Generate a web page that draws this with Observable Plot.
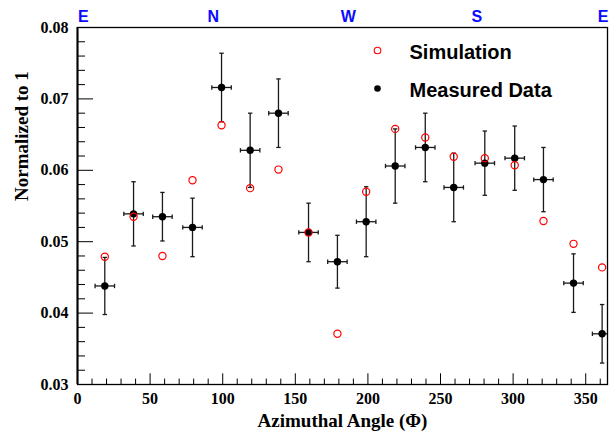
<!DOCTYPE html>
<html><head><meta charset="utf-8">
<script src="https://cdn.jsdelivr.net/npm/d3@7"></script>
<script src="https://cdn.jsdelivr.net/npm/@observablehq/plot@0.6"></script>
<style>
html,body{margin:0;padding:0;background:#fff;}
#chart{width:611px;height:442px;}
</style></head><body><div id="chart"></div>
<script>
// ---- data ----
const angles      = [18.8, 38.6, 58.5, 79.2, 99.2, 118.9, 138.4, 159.1, 179, 198.8, 218.8, 239.5, 259.1, 280.5, 301.1, 320.9, 341.6, 361.3];
const measured    = [0.0438, 0.0539, 0.0535, 0.0520, 0.0716, 0.0628, 0.0680, 0.0513, 0.0472, 0.0528, 0.0606, 0.0632, 0.0576, 0.0610, 0.0617, 0.0587, 0.0442, 0.0371];
const measuredErr = [0.0040, 0.0045, 0.0034, 0.0041, 0.0048, 0.0052, 0.0048, 0.0041, 0.0037, 0.0049, 0.0052, 0.0048, 0.0048, 0.0045, 0.0045, 0.0045, 0.0041, 0.0041];
const simulation  = [0.0479, 0.0535, 0.0480, 0.0586, 0.0663, 0.0575, 0.0601, 0.0513, 0.0371, 0.0570, 0.0658, 0.0646, 0.0619, 0.0617, 0.0607, 0.0529, 0.0497, 0.0464];
const angleErr = 6.7;

const xTicks = [0, 50, 100, 150, 200, 250, 300, 350];
const xMinor = [0,10,20,30,40,60,70,80,90,110,120,130,140,160,170,180,190,210,220,230,240,260,270,280,290,310,320,330,340,360];
const yTicks = [0.03, 0.04, 0.05, 0.06, 0.07, 0.08];
const yTickLabels = ["0.03", "0.04", "0.05", "0.06", "0.07", "0.08"];
const yMinor = [0.032,0.034,0.036,0.038,0.042,0.044,0.046,0.048,0.052,0.054,0.056,0.058,0.062,0.064,0.066,0.068,0.072,0.074,0.076,0.078];
const compassLabels = ["E", "N", "W", "S", "E"];
const compassAngles = [4, 93.5, 186.5, 275, 362];
const legendLabels = ["Simulation", "Measured Data"];
const xTitle = "Azimuthal Angle (\u03A6)";
const yTitle = "Normalized to 1";

// ---- build table ----
const rows = angles.map((a, i) => ({a, m: measured[i], e: measuredErr[i], s: simulation[i]}));

const W = 611, H = 442, ML = 77, MR = 4, MT = 27, MB = 58;
const FW = W - ML - MR, FH = H - MT - MB;

const capH = {draw(ctx, size) { const r = Math.sqrt(size / Math.PI); ctx.moveTo(-r, 0); ctx.lineTo(r, 0); }};
const capV = {draw(ctx, size) { const r = Math.sqrt(size / Math.PI); ctx.moveTo(0, -r); ctx.lineTo(0, r); }};

const serif = "'Liberation Serif', 'Times New Roman', serif";
const sans = "'Liberation Sans', Arial, Helvetica, sans-serif";
const barColor = "#1a1a1a";

const chart = Plot.plot({
  width: W, height: H,
  marginLeft: ML, marginRight: MR, marginTop: MT, marginBottom: MB,
  x: {domain: [0, 365], axis: null},
  y: {domain: [0.03, 0.08], axis: null},
  style: {background: "white", overflow: "visible"},
  marks: [
    // ticks (inward)
    Plot.tickX(xMinor, {x: d => d, insetTop: FH - 5.4, stroke: "black", strokeWidth: 1}),
    Plot.tickX(xTicks, {x: d => d, insetTop: FH - 10.7, stroke: "black", strokeWidth: 1}),
    Plot.tickY(yMinor, {y: d => d, insetRight: FW - 8, stroke: "black", strokeWidth: 1}),
    Plot.tickY(yTicks, {y: d => d, insetRight: FW - 16, stroke: "black", strokeWidth: 1}),
    // tick labels
    Plot.text(xTicks, {x: d => d, frameAnchor: "bottom", dy: 19, lineAnchor: "bottom", text: d => String(d),
      fontFamily: serif, fontWeight: "bold", fontSize: 16, fill: "black"}),
    Plot.text(yTicks, {y: d => d, frameAnchor: "left", dx: -9, textAnchor: "end", lineAnchor: "middle",
      text: (d, i) => yTickLabels[i], fontFamily: serif, fontWeight: "bold", fontSize: 16, fill: "black"}),
    // titles
    Plot.text([xTitle], {frameAnchor: "bottom", dy: 42, lineAnchor: "bottom", text: d => d,
      fontFamily: serif, fontWeight: "bold", fontSize: 19, fill: "black"}),
    Plot.text([yTitle], {frameAnchor: "left", dx: -50, dy: -5, rotate: -90, lineAnchor: "bottom", text: d => d,
      fontFamily: serif, fontWeight: "bold", fontSize: 19, fill: "black"}),
    // compass labels
    Plot.text(compassLabels, {x: (d, i) => compassAngles[i], frameAnchor: "top", dy: -5.3, lineAnchor: "bottom", text: d => d,
      fontFamily: sans, fontWeight: "bold", fontSize: 16, fill: "#0a0aff"}),
    // error bars
    Plot.link(rows, {x1: d => d.a - angleErr, x2: d => d.a + angleErr, y1: "m", y2: "m", stroke: barColor, strokeWidth: 1.3, clip: true}),
    Plot.link(rows, {x1: "a", x2: "a", y1: d => d.m - d.e, y2: d => d.m + d.e, stroke: barColor, strokeWidth: 1.3, clip: true}),
    Plot.dot(rows, {x: "a", y: d => d.m - d.e, symbol: capH, r: 2.2, stroke: barColor, strokeWidth: 1.3, fill: "none"}),
    Plot.dot(rows, {x: "a", y: d => d.m + d.e, symbol: capH, r: 2.2, stroke: barColor, strokeWidth: 1.3, fill: "none"}),
    Plot.dot(rows, {x: d => d.a - angleErr, y: "m", symbol: capV, r: 2.2, stroke: barColor, strokeWidth: 1.3, fill: "none", clip: true}),
    Plot.dot(rows, {x: d => d.a + angleErr, y: "m", symbol: capV, r: 2.2, stroke: barColor, strokeWidth: 1.3, fill: "none", clip: true}),
    // markers
    Plot.dot(rows, {x: "a", y: "m", r: 3.7, fill: "black", stroke: "none"}),
    Plot.dot(rows, {x: "a", y: "s", r: 3.6, fill: "none", stroke: "#ff0000", strokeWidth: 1.2}),
    // frame
    Plot.frame({stroke: "black", strokeWidth: 1.3}),
    Plot.ruleX([0], {stroke: "black", strokeWidth: 2}),
    // legend
    Plot.dot([legendLabels[0]], {frameAnchor: "top-left", dx: 300, dy: 23, r: 3.3, fill: "none", stroke: "#ff0000", strokeWidth: 1.1}),
    Plot.dot([legendLabels[1]], {frameAnchor: "top-left", dx: 300, dy: 61, r: 3.3, fill: "black", stroke: "none"}),
    Plot.text([legendLabels[0]], {frameAnchor: "top-left", dx: 332, dy: 31.3, lineAnchor: "bottom", textAnchor: "start", text: d => d,
      fontFamily: sans, fontWeight: "bold", fontSize: 20, fill: "black"}),
    Plot.text([legendLabels[1]], {frameAnchor: "top-left", dx: 332, dy: 69.7, lineAnchor: "bottom", textAnchor: "start", text: d => d,
      fontFamily: sans, fontWeight: "bold", fontSize: 20, fill: "black"})
  ]
});
document.getElementById("chart").appendChild(chart);
</script>
</body></html>
